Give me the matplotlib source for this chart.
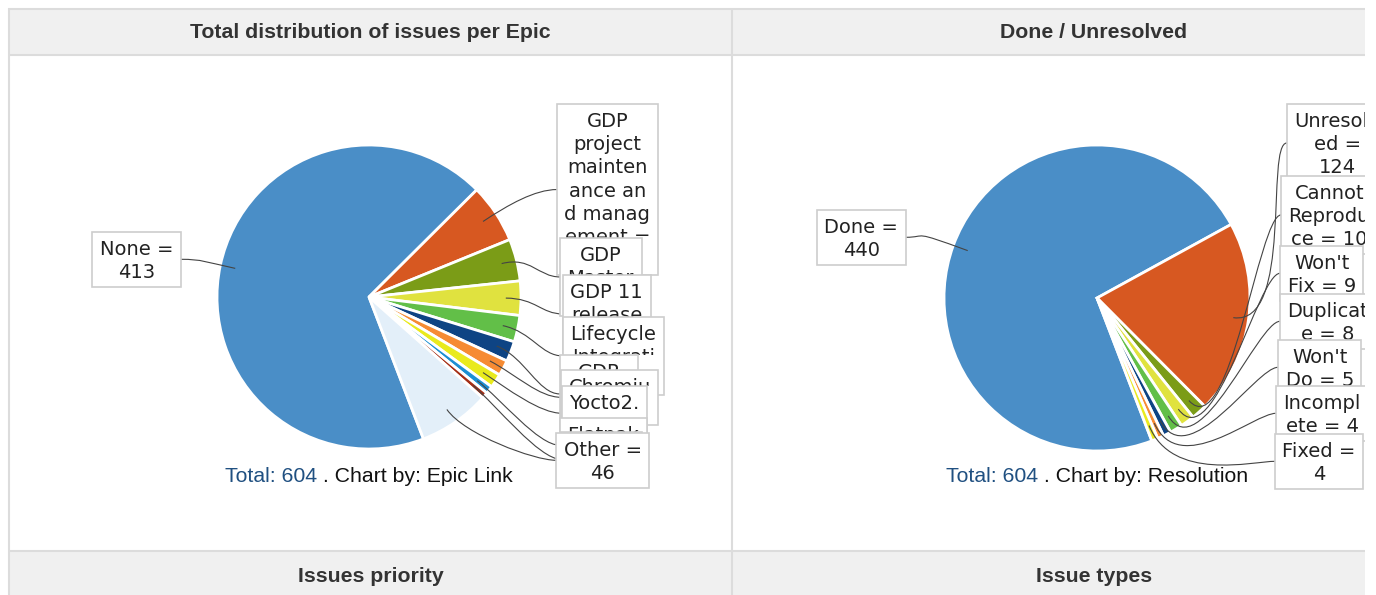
import matplotlib
matplotlib.use("Agg")
import numpy as np
import matplotlib.pyplot as plt
from matplotlib.patches import Rectangle, PathPatch
from matplotlib.path import Path
from matplotlib.font_manager import FontProperties
from matplotlib.offsetbox import TextArea, HPacker, AnnotationBbox
from matplotlib.transforms import Bbox, TransformedBbox

W, H = 1376, 595

# datos de los dos graficos de tarta
epic_names = ["None", "GDP project maintenance and management", "GDP Master", "GDP 11 release",
              "Lifecycle Integration", "GDP SDK", "Chromium", "Yocto2.x", "Flatpak", "Misc", "Other"]
epic_counts = [413, 38, 27, 22, 17, 13, 10, 9, 5, 4, 46]
epic_labels = ["None =\n413", "GDP\nproject\nmainten\nance an\nd manag\nement =\n38", "GDP\nMaster\n= 27",
               "GDP 11\nrelease\n= 22", "Lifecycle\nIntegrati\non = 17", "GDP\nSDK =\n13", "Chromiu\nm = 10",
               "Yocto2.\nx = 9", "Flatpak\n= 5", "Misc =\n4", "Other =\n46"]

res_names = ["Done", "Unresolved", "Cannot Reproduce", "Won't Fix", "Duplicate", "Won't Do", "Incomplete", "Fixed"]
res_counts = [440, 124, 10, 9, 8, 5, 4, 4]
res_labels = ["Done =\n440", "Unresolv\ned =\n124", "Cannot\nReprodu\nce = 10", "Won't\nFix = 9",
              "Duplicat\ne = 8", "Won't\nDo = 5", "Incompl\nete = 4", "Fixed =\n4"]

palette = ["#4a8ec7", "#d75821", "#7b9c17", "#e0e23f", "#62bf48", "#0e4484",
           "#f68b33", "#e9ea1d", "#1c8fd3", "#a42e16"]
other_color = "#e3eff9"

# posiciones de las cajas de etiquetas (px, arriba-izquierda)
epic_boxes = [(92, 232), (557, 104), (560, 238), (563, 275), (563, 317), (560, 355),
              (561, 370), (562, 386), (560, 418), (561, 432), (556, 433)]
res_boxes = [(817, 210), (1287, 104), (1281, 176), (1280, 246), (1280, 294),
             (1278, 340), (1276, 386), (1275, 434)]

fig = plt.figure(figsize=(W / 100, H / 100), dpi=100)
fig.patch.set_facecolor("white")

# capa de dibujo en pixeles (recortada en el borde derecho de la celda)
CLIP_X = 1365
ov = fig.add_axes([0, 0, CLIP_X / W, 1], zorder=5)
ov.set_xlim(0, CLIP_X)
ov.set_ylim(H, 0)
ov.axis("off")

border = "#dcdcdc"
head_bg = "#f0f0f0"
ov.add_patch(Rectangle((9, 9), CLIP_X - 9, 46, facecolor=head_bg, edgecolor="none", zorder=0))
ov.add_patch(Rectangle((9, 552), CLIP_X - 9, 50, facecolor=head_bg, edgecolor="none", zorder=0))
for y in [8.5, 55, 551]:
    ov.plot([8, CLIP_X], [y, y], color=border, lw=1.5, zorder=1, solid_capstyle="butt")
for x in [8.5, 732]:
    ov.plot([x, x], [8, H], color=border, lw=1.5, zorder=1, solid_capstyle="butt")

hfont = dict(family="Liberation Sans", fontsize=15.3, fontweight="bold", color="#333333")
ov.text(370.5, 33, "Total distribution of issues per Epic", ha="center", va="center", **hfont)
ov.text(1094, 33, "Done / Unresolved", ha="center", va="center", **hfont)
ov.text(370.5, 576, "Issues priority", ha="center", va="center", **hfont)
ov.text(1094, 576, "Issue types", ha="center", va="center", **hfont)

fp = FontProperties(family="DejaVu Sans", size=14)
renderer = fig.canvas.get_renderer()
LINE = 23.3


def draw_pie(cx, cy, R, counts, colors, labels, boxes, edge_w, elbow_r, chart_by):
    ax = fig.add_axes([(cx - R) / W, (H - cy - R) / H, 2 * R / W, 2 * R / H], zorder=1)
    wedges, _ = ax.pie(counts, colors=colors, startangle=-69, counterclock=False,
                       wedgeprops=dict(edgecolor="white", linewidth=edge_w))
    ax.set_xlim(-1, 1)
    ax.set_ylim(-1, 1)

    # tamanos de las cajas
    rects = []
    for txt, (bx, by) in zip(labels, boxes):
        lines = txt.split("\n")
        tw = max(renderer.get_text_width_height_descent(l, fp, ismath=False)[0] for l in lines)
        rects.append((bx, by, tw + 15, len(lines) * LINE + 8, lines))

    to_px = ov.transData.inverted()
    for i, (w, (bx, by, bw, bh, lines)) in enumerate(zip(wedges, rects)):
        z = 3 + i * 0.1
        ov.add_patch(Rectangle((bx, by), bw, bh, facecolor="white", edgecolor="#cdcdcd", lw=1.2, zorder=z))
        # la siguiente caja tapa la parte de abajo
        cover = by + bh
        for (bx2, by2, bw2, bh2, _) in rects[i + 1:]:
            if by < by2 < cover and bx2 < bx + bw and bx2 + bw2 > bx:
                cover = by2
        clip = TransformedBbox(Bbox.from_extents(bx, by, min(bx + bw, CLIP_X), cover), ov.transData)
        for k, l in enumerate(lines):
            yc = by + 4 + LINE / 2 + k * LINE
            if yc - 8 >= cover - 1:
                continue
            t = ov.text(bx + bw / 2, yc + 7, l, ha="center", va="baseline", fontproperties=fp,
                        color="#222222", zorder=z + 0.01, clip_on=True)
            t.set_clip_box(clip)

        # linea de union curva
        ang = np.deg2rad((w.theta1 + w.theta2) / 2)
        p0 = to_px.transform(ax.transData.transform((0.9 * np.cos(ang), 0.9 * np.sin(ang))))
        p1 = to_px.transform(ax.transData.transform((elbow_r * np.cos(ang), elbow_r * np.sin(ang))))
        right = bx > cx
        ex = bx if right else bx + bw
        ey = by + bh / 2
        side = 1 if right else -1
        verts = [p0, p1, (ex - side * 22, ey), (ex, ey)]
        codes = [Path.MOVETO, Path.CURVE4, Path.CURVE4, Path.CURVE4]
        ov.add_patch(PathPatch(Path(verts, codes), fill=False, edgecolor="#444444", lw=0.8, zorder=2))

    total = sum(counts)
    tp = dict(family="Liberation Sans", fontsize=15.3)
    pack = HPacker(children=[TextArea(f"Total: {total}", textprops=dict(color="#205081", **tp)),
                             TextArea(f" . Chart by: {chart_by}", textprops=dict(color="#111111", **tp))],
                   pad=0, sep=0, align="baseline")
    ov.add_artist(AnnotationBbox(pack, (cx, 477), xycoords="data", frameon=False,
                                 box_alignment=(0.5, 0.5), pad=0))


draw_pie(369, 297, 152, epic_counts, palette + [other_color], epic_labels, epic_boxes, 2.0, 1.1, "Epic Link")
draw_pie(1097, 298, 153, res_counts, palette[:len(res_counts)], res_labels, res_boxes, 2.0, 1.3, "Resolution")

fig.savefig("out.png", dpi=100)
